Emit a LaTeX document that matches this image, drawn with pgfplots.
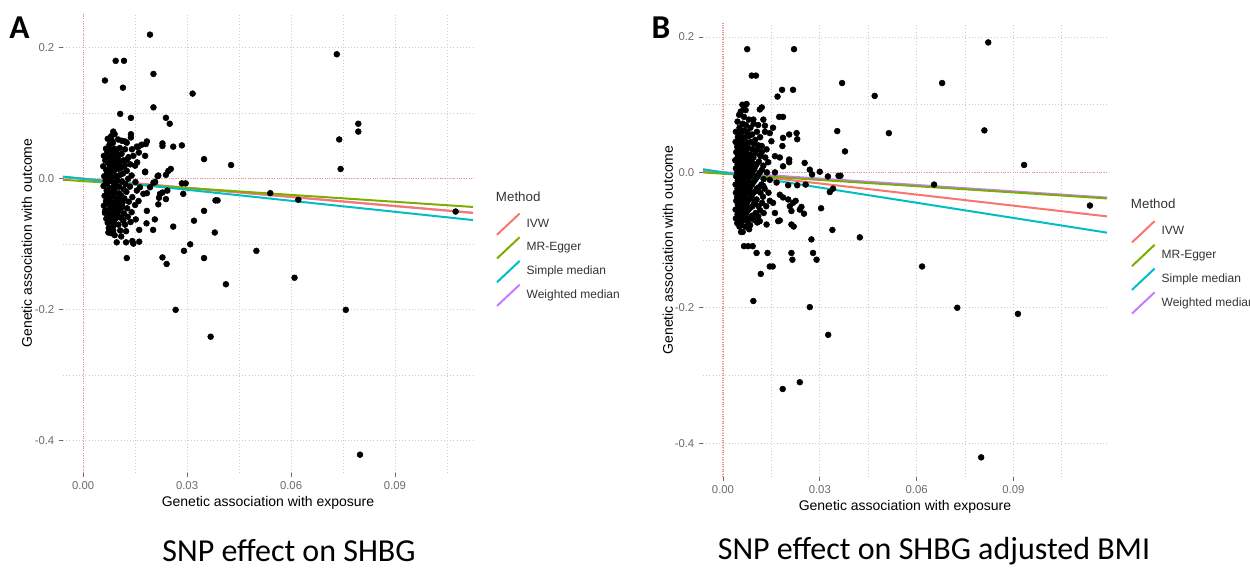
\documentclass[border=0pt]{standalone}
\usepackage{pgfplots}
\pgfplotsset{compat=1.18}
\usepackage{fontspec}
\setmainfont{Liberation Sans}
\newfontfamily\capfont{Carlito}
\definecolor{ivw}{HTML}{F8766D}
\definecolor{egger}{HTML}{7CAE00}
\definecolor{smed}{HTML}{00BFC4}
\definecolor{wmed}{HTML}{C77CFF}
\definecolor{gridc}{HTML}{CCCCCC}
\definecolor{refc}{HTML}{F29090}
\definecolor{ticklab}{HTML}{6A6A6A}
\definecolor{legtext}{HTML}{333333}
\pgfplotsset{
  mrstyle/.style={
    scale only axis, clip=false,
    axis line style={draw=none},
    tick align=outside, xtick pos=left, ytick pos=left,
    major tick length=3pt, minor tick length=0pt,
    tick style={color=ticklab, line width=0.6pt},
    xtick={0,0.03,0.06,0.09}, xticklabels={0.00,0.03,0.06,0.09},
    ytick={-0.4,-0.2,0,0.2}, yticklabels={-0.4,-0.2,0.0,0.2},
    minor xtick={0.015,0.045,0.075,0.105}, minor ytick={-0.3,-0.1,0.1},
    grid=both,
    major grid style={gridc, dotted, line width=0.6pt},
    minor grid style={gridc, dotted, line width=0.6pt},
    ticklabel style={font=\fontsize{8.5}{10}\selectfont, color=ticklab},
    xlabel={Genetic association with exposure},
    ylabel={Genetic association with outcome},
    label style={font=\fontsize{10.5}{12}\selectfont},
    legend cell align=left,
    legend image code/.code={\draw[#1, line width=1.5pt] (0pt,-8pt) -- (17pt,8pt);},
    legend style={draw=none, fill=none, inner sep=0pt, row sep=0.3pt,
      font=\fontsize{9}{10}\selectfont, text=legtext,
      nodes={inner sep=0.5pt},
      /tikz/every odd column/.append style={column sep=4pt}},
  },
  pts/.style={only marks, mark=*, mark size=2.2pt, black, mark options={fill=black, draw=black}},
  ref/.style={refc, densely dotted, line width=0.8pt, forget plot},
  regl/.style={line width=1.5pt},
}
\begin{document}
\begin{tikzpicture}
\useasboundingbox (0,0) rectangle (937.5pt,429pt);
% ---------------- Panel A ----------------
\begin{axis}[mrstyle, at={(47.25pt,74.25pt)}, anchor=south west,
  width=307.5pt, height=345pt,
  xmin=-0.0058, xmax=0.1125, ymin=-0.449, ymax=0.253,
  xlabel style={at={(axis description cs:0.5,-0.065)}, anchor=center},
  ylabel style={at={(axis description cs:-0.088,0.5)}, anchor=center},
  legend style={at={(axis description cs:1.0554,0.567)}, anchor=north west}]
\addplot[ref] coordinates {(0,-0.449) (0,0.253)};
\addplot[ref] coordinates {(-0.0058,0) (0.1125,0)};
\addplot[pts, forget plot] coordinates {
(0.0193,0.220) (0.0094,0.180) (0.0118,0.180) (0.0063,0.150) (0.0203,0.160) (0.0115,0.139)
(0.0316,0.130) (0.0203,0.109) (0.0107,0.099) (0.0138,0.093) (0.0239,0.093) (0.0250,0.084)
(0.0349,0.030) (0.0427,0.021) (0.0285,0.051) (0.0260,0.049) (0.0229,0.054) (0.0229,0.050)
(0.0349,-0.049) (0.0320,-0.064) (0.0260,-0.073) (0.0380,-0.082) (0.0291,-0.110) (0.0309,-0.100)
(0.0349,-0.121) (0.0229,-0.120) (0.0241,-0.130) (0.0500,-0.110) (0.0610,-0.151) (0.0126,-0.121)
(0.0097,-0.097) (0.0124,-0.097) (0.0142,-0.095) (0.0073,-0.082) (0.0382,-0.033) (0.0388,-0.033)
(0.0289,-0.023) (0.0540,-0.022) (0.0621,-0.032) (0.0412,-0.161) (0.0267,-0.200) (0.0368,-0.241)
(0.0732,0.190) (0.0794,0.084) (0.0794,0.072) (0.0739,0.060) (0.0743,0.015) (0.1075,-0.050)
(0.0758,-0.200) (0.0799,-0.421) (0.0285,-0.007) (0.0296,-0.007) (0.0162,-0.096) (0.0145,-0.099)
(0.0202,-0.078) (0.0207,-0.062) (0.0183,-0.068) (0.0162,-0.078) (0.0217,-0.039) (0.0222,-0.023)
(0.0243,-0.018) (0.0239,-0.031) (0.0215,0.004) (0.0246,0.012) (0.0179,0.011) (0.0208,-0.005)
(0.0193,-0.013) (0.0164,-0.013) (0.0174,-0.023) (0.0184,-0.049) (0.0140,-0.051) (0.0116,-0.064)
(0.0107,-0.079) (0.0087,-0.072) (0.0087,-0.079) (0.0087,0.072) (0.0138,0.068) (0.0138,0.063)
(0.0184,0.057) (0.0169,0.052) (0.0160,0.049) (0.0179,0.035) (0.0112,0.058) (0.0121,0.057)
(0.0083,0.058) (0.0239,0.006) (0.0253,0.015) (0.0217,0.005) (0.0229,-0.021) (0.0219,-0.029)
(0.0203,-0.006) (0.0184,-0.022) (0.0181,0.053) (0.0155,0.049) (0.0126,0.055) (0.0145,0.035)
(0.0150,0.020) (0.0126,0.029) (0.0179,0.010)
(0.0060,0.035) (0.0058,0.019) (0.0061,0.004) (0.0059,-0.011) (0.0062,-0.026) (0.0060,-0.041) (0.0063,-0.052)
(0.0066,0.046) (0.0064,0.028) (0.0067,0.013) (0.0065,-0.003) (0.0068,-0.018) (0.0066,-0.034) (0.0064,-0.048) (0.0067,-0.061)
(0.0071,0.061) (0.0070,0.041) (0.0073,0.024) (0.0071,0.009) (0.0069,-0.007) (0.0072,-0.022) (0.0070,-0.037) (0.0073,-0.053) (0.0071,-0.067)
(0.0076,0.052) (0.0075,0.033) (0.0077,0.017) (0.0074,0.001) (0.0077,-0.014) (0.0075,-0.029) (0.0078,-0.044) (0.0076,-0.059) (0.0074,-0.075)
(0.0081,0.065) (0.0080,0.044) (0.0082,0.027) (0.0079,0.011) (0.0083,-0.004) (0.0081,-0.019) (0.0079,-0.034) (0.0082,-0.050) (0.0080,-0.065) (0.0081,-0.083)
(0.0086,0.055) (0.0085,0.036) (0.0087,0.019) (0.0084,0.003) (0.0088,-0.012) (0.0086,-0.027) (0.0085,-0.042) (0.0088,-0.057)
(0.0091,0.068) (0.0090,0.046) (0.0092,0.029) (0.0089,0.012) (0.0093,-0.006) (0.0091,-0.021) (0.0090,-0.036) (0.0092,-0.051) (0.0089,-0.066) (0.0091,-0.086)
(0.0096,0.040) (0.0095,0.022) (0.0097,0.004) (0.0094,-0.013) (0.0098,-0.030) (0.0096,-0.045) (0.0095,-0.060)
(0.0101,0.060) (0.0100,0.032) (0.0102,0.015) (0.0099,-0.002) (0.0103,-0.022) (0.0101,-0.038) (0.0100,-0.055) (0.0102,-0.070)
(0.0106,0.047) (0.0105,0.025) (0.0107,0.006) (0.0104,-0.012) (0.0108,-0.030) (0.0106,-0.048)
(0.0111,0.038) (0.0110,0.017) (0.0112,-0.004) (0.0109,-0.025) (0.0113,-0.043) (0.0111,-0.060) (0.0110,-0.088)
(0.0116,0.028) (0.0115,0.008) (0.0117,-0.016) (0.0114,-0.036) (0.0118,-0.053)
(0.0121,0.045) (0.0120,0.020) (0.0122,-0.008) (0.0119,-0.030) (0.0121,-0.070)
(0.0126,0.012) (0.0125,-0.020) (0.0127,-0.045) (0.0124,-0.080)
(0.0131,0.033) (0.0130,0.000) (0.0132,-0.035) (0.0129,-0.058)
(0.0136,0.022) (0.0135,-0.012) (0.0137,-0.066)
(0.0141,0.045) (0.0140,0.005) (0.0142,-0.028)
(0.0151,-0.005) (0.0150,-0.040) (0.0152,-0.062)
(0.0156,0.025) (0.0155,-0.018) (0.0161,0.040) (0.0160,-0.034)
};
\addplot[wmed, regl, forget plot] coordinates {(-0.0058,0.0027) (0.1125,-0.052)};
\addplot[ivw, regl] coordinates {(-0.0058,0.0027) (0.1125,-0.052)};
\addlegendentry{IVW}
\addplot[egger, regl] coordinates {(-0.0058,-0.0015) (0.1125,-0.043)};
\addlegendentry{MR-Egger}
\addplot[smed, regl] coordinates {(-0.0058,0.0033) (0.1125,-0.063)};
\addlegendentry{Simple median}
\addlegendimage{wmed, regl}
\addlegendentry{Weighted median}
\node[anchor=west, inner sep=0pt, font=\fontsize{10}{12}\selectfont, text=legtext] at (axis description cs:1.0554,0.600) {Method};
\end{axis}
% ---------------- Panel B ----------------
\begin{axis}[mrstyle, at={(527.25pt,71.25pt)}, anchor=south west,
  width=303pt, height=340.5pt,
  xmin=-0.0062, xmax=0.1190, ymin=-0.450, ymax=0.2207,
  xlabel style={at={(axis description cs:0.5,-0.066)}, anchor=center},
  ylabel style={at={(axis description cs:-0.087,0.5)}, anchor=center},
  legend style={at={(axis description cs:1.0587,0.5665)}, anchor=north west}]
\addplot[ref] coordinates {(0,-0.450) (0,0.2207)};
\addplot[ref] coordinates {(-0.0062,0) (0.1190,0)};
\addplot[pts, forget plot] coordinates {
(0.0075,0.182) (0.0220,0.182) (0.0089,0.143) (0.0102,0.143) (0.0369,0.132) (0.0679,0.132)
(0.0470,0.113) (0.0183,0.122) (0.0217,0.122) (0.0169,0.112) (0.0514,0.058) (0.0354,0.061)
(0.0378,0.031) (0.0228,0.058) (0.0230,0.049) (0.0424,-0.096) (0.0339,-0.085) (0.0304,-0.053)
(0.0274,-0.099) (0.0617,-0.139) (0.0654,-0.018) (0.0331,-0.029) (0.0358,-0.005) (0.0364,-0.005)
(0.0300,0.001) (0.0253,0.014) (0.0269,0.004) (0.0276,-0.003) (0.0212,-0.119) (0.0215,-0.129)
(0.0279,-0.119) (0.0290,-0.129) (0.0138,-0.119) (0.0104,-0.119) (0.0065,-0.109) (0.0078,-0.109)
(0.0092,-0.109) (0.0056,-0.088) (0.0145,-0.139) (0.0154,-0.139) (0.0117,-0.150) (0.0251,-0.061)
(0.0217,-0.045) (0.0225,-0.042) (0.0238,-0.055) (0.0243,-0.051) (0.0212,-0.077) (0.0219,-0.080)
(0.0094,-0.190) (0.0269,-0.199) (0.0207,-0.050) (0.0212,-0.057) (0.0176,-0.071) (0.0171,-0.072)
(0.0161,-0.060) (0.0135,-0.077) (0.0114,-0.072) (0.0081,-0.084) (0.0202,-0.019) (0.0230,-0.019)
(0.0256,-0.018) (0.0325,-0.006) (0.0341,-0.024) (0.0186,0.009) (0.0205,0.015) (0.0176,-0.033)
(0.0186,-0.037) (0.0202,-0.040) (0.0145,-0.042) (0.0155,-0.045) (0.0125,-0.020) (0.0145,-0.011)
(0.0161,0.000) (0.0166,-0.015) (0.0073,0.101) (0.0065,0.096) (0.0114,0.093) (0.0120,0.096)
(0.0174,0.082) (0.0186,0.082) (0.0205,0.056) (0.0186,0.051) (0.0184,0.039) (0.0155,0.066)
(0.0145,0.058) (0.0125,0.078) (0.0094,0.078) (0.0130,0.069) (0.0109,0.070) (0.0205,0.019)
(0.0176,0.022) (0.0150,0.046) (0.0120,0.039) (0.0161,0.024)
(0.0326,-0.240) (0.0238,-0.310) (0.0185,-0.320) (0.0726,-0.200) (0.0822,0.192) (0.0810,0.062)
(0.0933,0.011) (0.1137,-0.049) (0.0914,-0.209) (0.0800,-0.421)
(0.0040,0.060) (0.0039,0.045) (0.0041,0.030) (0.0038,0.018) (0.0040,0.006) (0.0041,-0.006) (0.0039,-0.018) (0.0040,-0.030) (0.0041,-0.042) (0.0039,-0.055) (0.0040,-0.068)
(0.0045,0.075) (0.0046,0.052) (0.0044,0.038) (0.0046,0.024) (0.0045,0.012) (0.0044,0.000) (0.0046,-0.012) (0.0045,-0.024) (0.0044,-0.036) (0.0046,-0.048) (0.0045,-0.062) (0.0044,-0.075)
(0.0050,0.085) (0.0051,0.066) (0.0049,0.046) (0.0051,0.032) (0.0050,0.018) (0.0049,0.006) (0.0051,-0.006) (0.0050,-0.018) (0.0049,-0.030) (0.0051,-0.042) (0.0050,-0.054) (0.0049,-0.068) (0.0051,-0.080)
(0.0055,0.090) (0.0056,0.058) (0.0054,0.040) (0.0056,0.026) (0.0055,0.012) (0.0054,-0.001) (0.0056,-0.013) (0.0055,-0.025) (0.0054,-0.037) (0.0056,-0.050) (0.0055,-0.063) (0.0054,-0.078)
(0.0060,0.100) (0.0061,0.072) (0.0059,0.050) (0.0061,0.034) (0.0060,0.020) (0.0059,0.006) (0.0061,-0.008) (0.0060,-0.020) (0.0059,-0.032) (0.0061,-0.045) (0.0060,-0.058) (0.0059,-0.072) (0.0061,-0.088)
(0.0065,0.082) (0.0066,0.062) (0.0064,0.043) (0.0066,0.028) (0.0065,0.014) (0.0064,0.000) (0.0066,-0.014) (0.0065,-0.027) (0.0064,-0.040) (0.0066,-0.053) (0.0065,-0.066)
(0.0070,0.092) (0.0071,0.070) (0.0069,0.052) (0.0071,0.036) (0.0070,0.022) (0.0069,0.008) (0.0071,-0.006) (0.0070,-0.020) (0.0069,-0.034) (0.0071,-0.048) (0.0070,-0.062) (0.0069,-0.080)
(0.0075,0.060) (0.0076,0.044) (0.0074,0.028) (0.0076,0.014) (0.0075,-0.001) (0.0074,-0.016) (0.0076,-0.030) (0.0075,-0.044) (0.0074,-0.058) (0.0076,-0.072)
(0.0080,0.078) (0.0081,0.054) (0.0079,0.036) (0.0081,0.020) (0.0080,0.004) (0.0079,-0.012) (0.0081,-0.026) (0.0080,-0.040) (0.0079,-0.055) (0.0081,-0.068)
(0.0085,0.066) (0.0086,0.045) (0.0084,0.026) (0.0086,0.010) (0.0085,-0.006) (0.0084,-0.022) (0.0086,-0.038) (0.0085,-0.052) (0.0084,-0.078)
(0.0090,0.056) (0.0091,0.034) (0.0089,0.016) (0.0091,-0.001) (0.0090,-0.018) (0.0089,-0.034) (0.0091,-0.050) (0.0090,-0.064)
(0.0095,0.072) (0.0096,0.042) (0.0094,0.022) (0.0096,0.004) (0.0095,-0.014) (0.0094,-0.030) (0.0096,-0.046) (0.0095,-0.070)
(0.0100,0.048) (0.0101,0.028) (0.0099,0.008) (0.0101,-0.010) (0.0100,-0.028) (0.0099,-0.044) (0.0101,-0.060)
(0.0105,0.060) (0.0106,0.034) (0.0104,0.012) (0.0106,-0.006) (0.0105,-0.024) (0.0104,-0.040) (0.0106,-0.074)
(0.0110,0.040) (0.0111,0.016) (0.0109,-0.004) (0.0111,-0.022) (0.0110,-0.050) (0.0109,-0.065)
(0.0115,0.052) (0.0116,0.024) (0.0114,0.000) (0.0116,-0.030) (0.0115,-0.056)
(0.0120,0.030) (0.0121,0.004) (0.0119,-0.018) (0.0121,-0.045)
(0.0125,0.010) (0.0126,-0.010) (0.0124,-0.036) (0.0126,-0.060)
(0.0130,0.060) (0.0131,0.022) (0.0129,-0.024)
(0.0135,0.034) (0.0136,0.000) (0.0134,-0.050)
(0.0140,0.015) (0.0141,-0.030)
};
\addplot[wmed, regl, forget plot] coordinates {(-0.0062,0.0023) (0.1190,-0.0372)};
\addplot[ivw, regl] coordinates {(-0.0062,0.0034) (0.1190,-0.065)};
\addlegendentry{IVW}
\addplot[egger, regl] coordinates {(-0.0062,0.0000) (0.1190,-0.0385)};
\addlegendentry{MR-Egger}
\addplot[smed, regl] coordinates {(-0.0062,0.0047) (0.1190,-0.089)};
\addlegendentry{Simple median}
\addlegendimage{wmed, regl}
\addlegendentry{Weighted median}
\node[anchor=west, inner sep=0pt, font=\fontsize{10}{12}\selectfont, text=legtext] at (axis description cs:1.0587,0.601) {Method};
\end{axis}
% ---------------- labels ----------------
\node[font=\capfont\bfseries\fontsize{25}{28}\selectfont] at (14.6pt,408.4pt) {A};
\node[font=\capfont\bfseries\fontsize{25}{28}\selectfont] at (495.75pt,408pt) {B};
\node[font=\capfont\fontsize{24}{28}\selectfont] at (216.75pt,15.75pt) {SNP effect on SHBG};
\node[font=\capfont\fontsize{24}{28}\selectfont] at (700.5pt,15.75pt) {SNP effect on SHBG adjusted BMI};
\end{tikzpicture}
\end{document}
